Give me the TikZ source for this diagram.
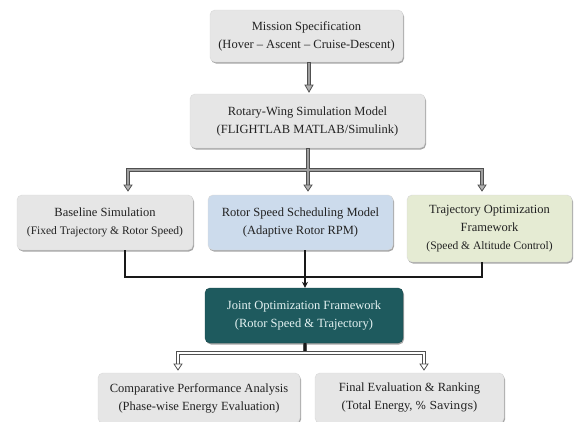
\documentclass[tikz,border=0pt]{standalone}
\usepackage{fontspec}
\setmainfont{Liberation Serif}
\newfontfamily\wideserif{DejaVu Serif}
\usetikzlibrary{arrows.meta,shadows,calc}
\definecolor{boxgray}{HTML}{E6E6E6}
\definecolor{boxblue}{HTML}{CCDBEC}
\definecolor{boxgreen}{HTML}{E5EBD3}
\definecolor{teal}{HTML}{1E5A5E}
\definecolor{tealtext}{HTML}{E4F2F2}
\definecolor{txt}{HTML}{222222}
\definecolor{pipeout}{HTML}{505050}
\tikzset{
  boxbase/.style={rounded corners=5pt, draw=gray!30, line width=0.4pt,
    align=center, inner sep=2pt, text=txt,
    font=\fontsize{12.5}{18}\selectfont,
    drop shadow={shadow xshift=1pt, shadow yshift=-1.5pt, opacity=0.35, fill=black}},
  graybox/.style={boxbase, fill=boxgray},
  bluebox/.style={boxbase, fill=boxblue},
  greenbox/.style={boxbase, fill=boxgreen},
  tealbox/.style={boxbase, fill=teal, draw=teal!80!black, text=tealtext},
  pipeouter/.style={draw=pipeout, line width=3.2pt},
  pipeinner/.style={draw=gray!75, line width=1.2pt},
  pipeinnerw/.style={draw=white, line width=1.2pt},
  pipehead/.style={draw=pipeout, fill=gray!60, line width=0.8pt},
  openhead/.style={draw=pipeout, fill=white, line width=0.8pt},
  blackline/.style={draw=black!90, line width=2pt},
}
\begin{document}
\begin{tikzpicture}[x=1pt,y=-1pt]
\useasboundingbox (0,0) rectangle (581,421);
\fill[white] (0,0) rectangle (581,421);

\node[graybox, minimum width=193pt, minimum height=52pt] (ms) at (306.5,36)
  {Mission Specification\\(Hover -- Ascent -- Cruise-Descent)};
\node[graybox, minimum width=235pt, minimum height=54pt] (rw) at (307.5,121)
  {Rotary-Wing Simulation Model\\(FLIGHTLAB MATLAB/Simulink)};
\node[graybox, minimum width=176pt, minimum height=55pt] (bs) at (105,222.5)
  {Baseline Simulation\\{\fontsize{11.5}{18}\selectfont(Fixed Trajectory \& Rotor Speed)}};
\node[bluebox, minimum width=185pt, minimum height=55pt] (rs) at (300.5,222.5)
  {Rotor Speed Scheduling Model\\(Adaptive Rotor RPM)};
\node[greenbox, minimum width=165pt, minimum height=67pt] (to) at (489.5,228.5)
  {Trajectory Optimization\\Framework\\{\fontsize{11.5}{18}\selectfont(Speed \& Altitude Control)}};
\node[tealbox, minimum width=198pt, minimum height=55pt] (jo) at (304,315.5)
  {Joint Optimization Framework\\(Rotor Speed \& Trajectory)};
\node[graybox, minimum width=202pt, minimum height=50pt] (cp) at (199,398)
  {Comparative Performance Analysis\\(Phase-wise Energy Evaluation)};
\node[graybox, minimum width=189pt, minimum height=50pt] (fe) at (409.5,398)
  {Final Evaluation \& Ranking\\(Total Energy, {\wideserif\fontsize{11}{18}\selectfont\% Savings})};

% coordinates
\coordinate (a1) at (309,88);
\coordinate (h1) at (128,170);
\coordinate (h2) at (308,170);
\coordinate (h3) at (482,170);
\coordinate (b1) at (125,277);
\coordinate (b2) at (482,277);
\coordinate (b3) at (305,277);
\coordinate (c1) at (178,353);
\coordinate (c2) at (305,353);
\coordinate (c3) at (424,353);

% top double arrow
\draw[pipeouter] (ms.south -| a1) -- ($(a1)+(0,-2)$);
\draw[pipeinner] ($(ms.south -| a1)+(0,1)$) -- ($(a1)+(0,-2)$);
\filldraw[pipehead] ($(a1)+(-4,-3)$) -- ($(a1)+(4,-3)$) -- ($(a1)+(0,4)$) -- cycle;

% distribution from rw
\draw[pipeouter] (rw.south -| h2) -- (h2);
\draw[pipeouter] ($(h1)+(0,16)$) -- (h1) -- (h3) -- ($(h3)+(0,16)$);
\draw[pipeouter] (h2) -- ($(h2)+(0,16)$);
\draw[pipeinner] ($(rw.south -| h2)+(0,1)$) -- ($(h2)+(0,16)$);
\draw[pipeinner] ($(h1)+(0,16)$) -- (h1) -- (h3) -- ($(h3)+(0,16)$);
\foreach \p in {h1,h2,h3}{
  \filldraw[pipehead] ($(\p)+(-4,15)$) -- ($(\p)+(4,15)$) -- ($(\p)+(0,21)$) -- cycle;
}

% merge into joint framework
\draw[blackline] (bs.south -| b1) -- (b1) -- (b2) -- (to.south -| b2);
\draw[blackline, -{Stealth[length=6pt,width=6pt]}] (rs.south -| b3) -- (jo.north -| b3);

% bottom distribution
\draw[pipeouter] (jo.south -| c2) -- (c2);
\draw[pipeouter] ($(c1)+(0,12)$) -- (c1) -- (c3) -- ($(c3)+(0,12)$);
\draw[pipeinnerw] ($(c1)+(0,12)$) -- (c1) -- (c3) -- ($(c3)+(0,12)$);
\draw[black!90, line width=2pt] ($(jo.south -| c2)+(0,-0.5)$) -- ($(c2)+(0,-1.6)$);
\foreach \p in {c1,c3}{
  \filldraw[openhead] ($(\p)+(-4,11)$) -- ($(\p)+(4,11)$) -- ($(\p)+(0,17)$) -- cycle;
}
\end{tikzpicture}
\end{document}
